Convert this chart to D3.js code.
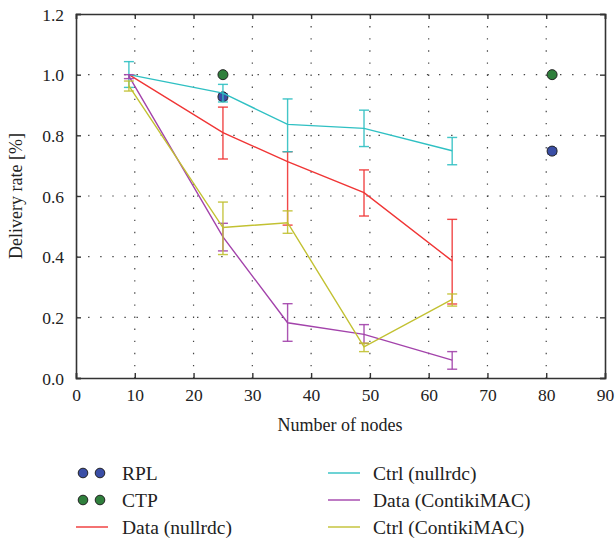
<!DOCTYPE html>
<html>
<head>
<meta charset="utf-8">
<script src="https://cdn.jsdelivr.net/npm/d3@7"></script>
<style>
  html, body { margin: 0; padding: 0; background: #fff; }
  svg { display: block; }
  text { font-family: "Liberation Serif", "DejaVu Serif", "Tinos", "Times New Roman", Times, serif; fill: #222; }
</style>
</head>
<body>
<svg id="chart" width="615" height="538"></svg>
<script>
// Number of nodes at each measured topology
const nodes = [9, 25, 36, 49, 64];
const refNodes = [25, 81];

// Reference protocols (markers only)
const rplRate = [0.927, 0.748];
const rplLow = [0.917, 0.738];
const rplHigh = [0.937, 0.758];
const ctpRate = [1.0, 1.0];

// Data traffic, nullrdc
const dataNullRate = [1.0, 0.809, 0.713, 0.611, 0.386];
const dataNullLow = [1.0, 0.722, 0.504, 0.534, 0.244];
const dataNullHigh = [1.0, 0.893, 0.746, 0.686, 0.523];

// Control traffic, nullrdc
const ctrlNullRate = [1.0, 0.939, 0.836, 0.823, 0.749];
const ctrlNullLow = [0.958, 0.910, 0.746, 0.763, 0.703];
const ctrlNullHigh = [1.043, 0.968, 0.920, 0.883, 0.793];

// Data traffic, ContikiMAC
const dataCmacRate = [0.995, 0.465, 0.182, 0.144, 0.059];
const dataCmacLow = [0.987, 0.419, 0.121, 0.114, 0.029];
const dataCmacHigh = [1.0, 0.510, 0.245, 0.176, 0.087];

// Control traffic, ContikiMAC
const ctrlCmacRate = [0.963, 0.496, 0.512, 0.103, 0.259];
const ctrlCmacLow = [0.946, 0.407, 0.477, 0.087, 0.237];
const ctrlCmacHigh = [0.979, 0.580, 0.551, 0.115, 0.277];

const xTicks = [0, 10, 20, 30, 40, 50, 60, 70, 80, 90];
const yTicks = [0.0, 0.2, 0.4, 0.6, 0.8, 1.0, 1.2];

const serif = "'Liberation Serif', 'DejaVu Serif', Tinos, 'Times New Roman', Times, serif";

const svg = d3.select("#chart");
const plot = { left: 76, top: 14, right: 605, bottom: 378 };

const x = d3.scaleLinear().domain([0, 90]).range([plot.left, plot.right]);
const y = d3.scaleLinear().domain([0, 1.2]).range([plot.bottom, plot.top]);

// Dotted grid
const grid = svg.append("g");
grid.selectAll("line.gx").data(xTicks.slice(1, -1)).join("line")
  .attr("x1", d => x(d)).attr("x2", d => x(d))
  .attr("y1", plot.top).attr("y2", plot.bottom)
  .attr("stroke", "#444").attr("stroke-width", 1.2)
  .attr("stroke-dasharray", "1.4,10.7");
grid.selectAll("line.gy").data(yTicks.slice(1, -1)).join("line")
  .attr("x1", plot.left).attr("x2", plot.right)
  .attr("y1", d => y(d)).attr("y2", d => y(d))
  .attr("stroke", "#444").attr("stroke-width", 1.2)
  .attr("stroke-dasharray", "1.4,10.7");

// Axes with inward ticks on all four sides
const tickLen = 5;
const axisColor = "#333";
const bottomAxis = svg.append("g").attr("transform", `translate(0,${plot.bottom})`)
  .call(d3.axisBottom(x).tickValues(xTicks).tickSize(-tickLen).tickPadding(11).tickFormat(d3.format("d")));
const topAxis = svg.append("g").attr("transform", `translate(0,${plot.top})`)
  .call(d3.axisTop(x).tickValues(xTicks).tickSize(-tickLen).tickFormat(""));
const leftAxis = svg.append("g").attr("transform", `translate(${plot.left},0)`)
  .call(d3.axisLeft(y).tickValues(yTicks).tickSize(-tickLen).tickPadding(12).tickFormat(d3.format(".1f")));
const rightAxis = svg.append("g").attr("transform", `translate(${plot.right},0)`)
  .call(d3.axisRight(y).tickValues(yTicks).tickSize(-tickLen).tickFormat(""));

[bottomAxis, topAxis, leftAxis, rightAxis].forEach(g => {
  g.attr("font-family", serif);
  g.select(".domain").attr("stroke", axisColor).attr("stroke-width", 1.6);
  g.selectAll(".tick line").attr("stroke", axisColor).attr("stroke-width", 1.4);
  g.selectAll(".tick text")
    .style("font-family", serif)
    .style("font-size", "17.5px").attr("fill", "#222");
});
bottomAxis.selectAll(".tick text").attr("dy", "0.71em");
leftAxis.selectAll(".tick text").attr("dy", "0.36em");

// Axis titles
svg.append("text")
  .attr("x", 340).attr("y", 431)
  .attr("text-anchor", "middle").style("font-size", "18px").style("font-family", serif)
  .text("Number of nodes");
svg.append("text")
  .attr("transform", `translate(22,${(plot.top + plot.bottom) / 2}) rotate(-90)`)
  .attr("text-anchor", "middle").style("font-size", "18px").style("font-family", serif)
  .text("Delivery rate [%]");

const blue = "#3a4ea6", green = "#2f7f3c";
const markerStroke = "#222";

// Reference protocol markers
const marks = svg.append("g");
const capW = 5;
marks.selectAll("g.rplerr").data(refNodes).join("g").each(function (d, i) {
  const g = d3.select(this);
  g.append("line").attr("x1", x(d)).attr("x2", x(d))
    .attr("y1", y(rplLow[i])).attr("y2", y(rplHigh[i]))
    .attr("stroke", "#7a88cc").attr("stroke-width", 1.3);
  [rplLow[i], rplHigh[i]].forEach(v => g.append("line")
    .attr("x1", x(d) - capW).attr("x2", x(d) + capW)
    .attr("y1", y(v)).attr("y2", y(v))
    .attr("stroke", "#7a88cc").attr("stroke-width", 1.3));
});
marks.selectAll("circle.rpl").data(refNodes).join("circle")
  .attr("cx", d => x(d)).attr("cy", (d, i) => y(rplRate[i])).attr("r", 5)
  .attr("fill", blue).attr("stroke", markerStroke).attr("stroke-width", 1);
marks.selectAll("circle.ctp").data(refNodes).join("circle")
  .attr("cx", d => x(d)).attr("cy", (d, i) => y(ctpRate[i])).attr("r", 5)
  .attr("fill", green).attr("stroke", markerStroke).attr("stroke-width", 1);

// Line series with error bars
const series = [
  { name: "Data (nullrdc)", color: "#f03535", rate: dataNullRate, low: dataNullLow, high: dataNullHigh },
  { name: "Ctrl (nullrdc)", color: "#2fc0c3", rate: ctrlNullRate, low: ctrlNullLow, high: ctrlNullHigh },
  { name: "Data (ContikiMAC)", color: "#a343ab", rate: dataCmacRate, low: dataCmacLow, high: dataCmacHigh },
  { name: "Ctrl (ContikiMAC)", color: "#c2c131", rate: ctrlCmacRate, low: ctrlCmacLow, high: ctrlCmacHigh }
];

const line = d3.line().x(d => x(d[0])).y(d => y(d[1]));

series.forEach(s => {
  const g = svg.append("g");
  g.append("path")
    .datum(nodes.map((n, i) => [n, s.rate[i]]))
    .attr("d", line).attr("fill", "none")
    .attr("stroke", s.color).attr("stroke-width", 1.4);
  nodes.forEach((n, i) => {
    if (s.high[i] - s.low[i] < 0.001) return;
    g.append("line").attr("x1", x(n)).attr("x2", x(n))
      .attr("y1", y(s.low[i])).attr("y2", y(s.high[i]))
      .attr("stroke", s.color).attr("stroke-width", 1.4).attr("opacity", 0.9);
    [s.low[i], s.high[i]].forEach(v => g.append("line")
      .attr("x1", x(n) - capW).attr("x2", x(n) + capW)
      .attr("y1", y(v)).attr("y2", y(v))
      .attr("stroke", s.color).attr("stroke-width", 1.4).attr("opacity", 0.9));
  });
});

// Legend
const legend = svg.append("g").style("font-size", "19.5px").style("font-family", serif);
const rowY = [473, 500, 527];
[[blue, 0], [green, 1]].forEach(([c, r]) => {
  [83, 100].forEach(cx => legend.append("circle")
    .attr("cx", cx).attr("cy", rowY[r]).attr("r", 4.8)
    .attr("fill", c).attr("stroke", markerStroke).attr("stroke-width", 1));
});
legend.append("text").attr("x", 122).attr("y", rowY[0]).attr("dy", "0.35em").text("RPL");
legend.append("text").attr("x", 122).attr("y", rowY[1]).attr("dy", "0.35em").text("CTP");

const lineLegend = [
  { s: series[0], lx: 76, tx: 122, row: 2 },
  { s: series[1], lx: 328, tx: 373, row: 0 },
  { s: series[2], lx: 328, tx: 373, row: 1 },
  { s: series[3], lx: 328, tx: 373, row: 2 }
];
lineLegend.forEach(e => {
  legend.append("line")
    .attr("x1", e.lx).attr("x2", e.lx + 32)
    .attr("y1", rowY[e.row]).attr("y2", rowY[e.row])
    .attr("stroke", e.s.color).attr("stroke-width", 1.4);
  legend.append("text").attr("x", e.tx).attr("y", rowY[e.row]).attr("dy", "0.35em").text(e.s.name);
});
</script>
</body>
</html>
